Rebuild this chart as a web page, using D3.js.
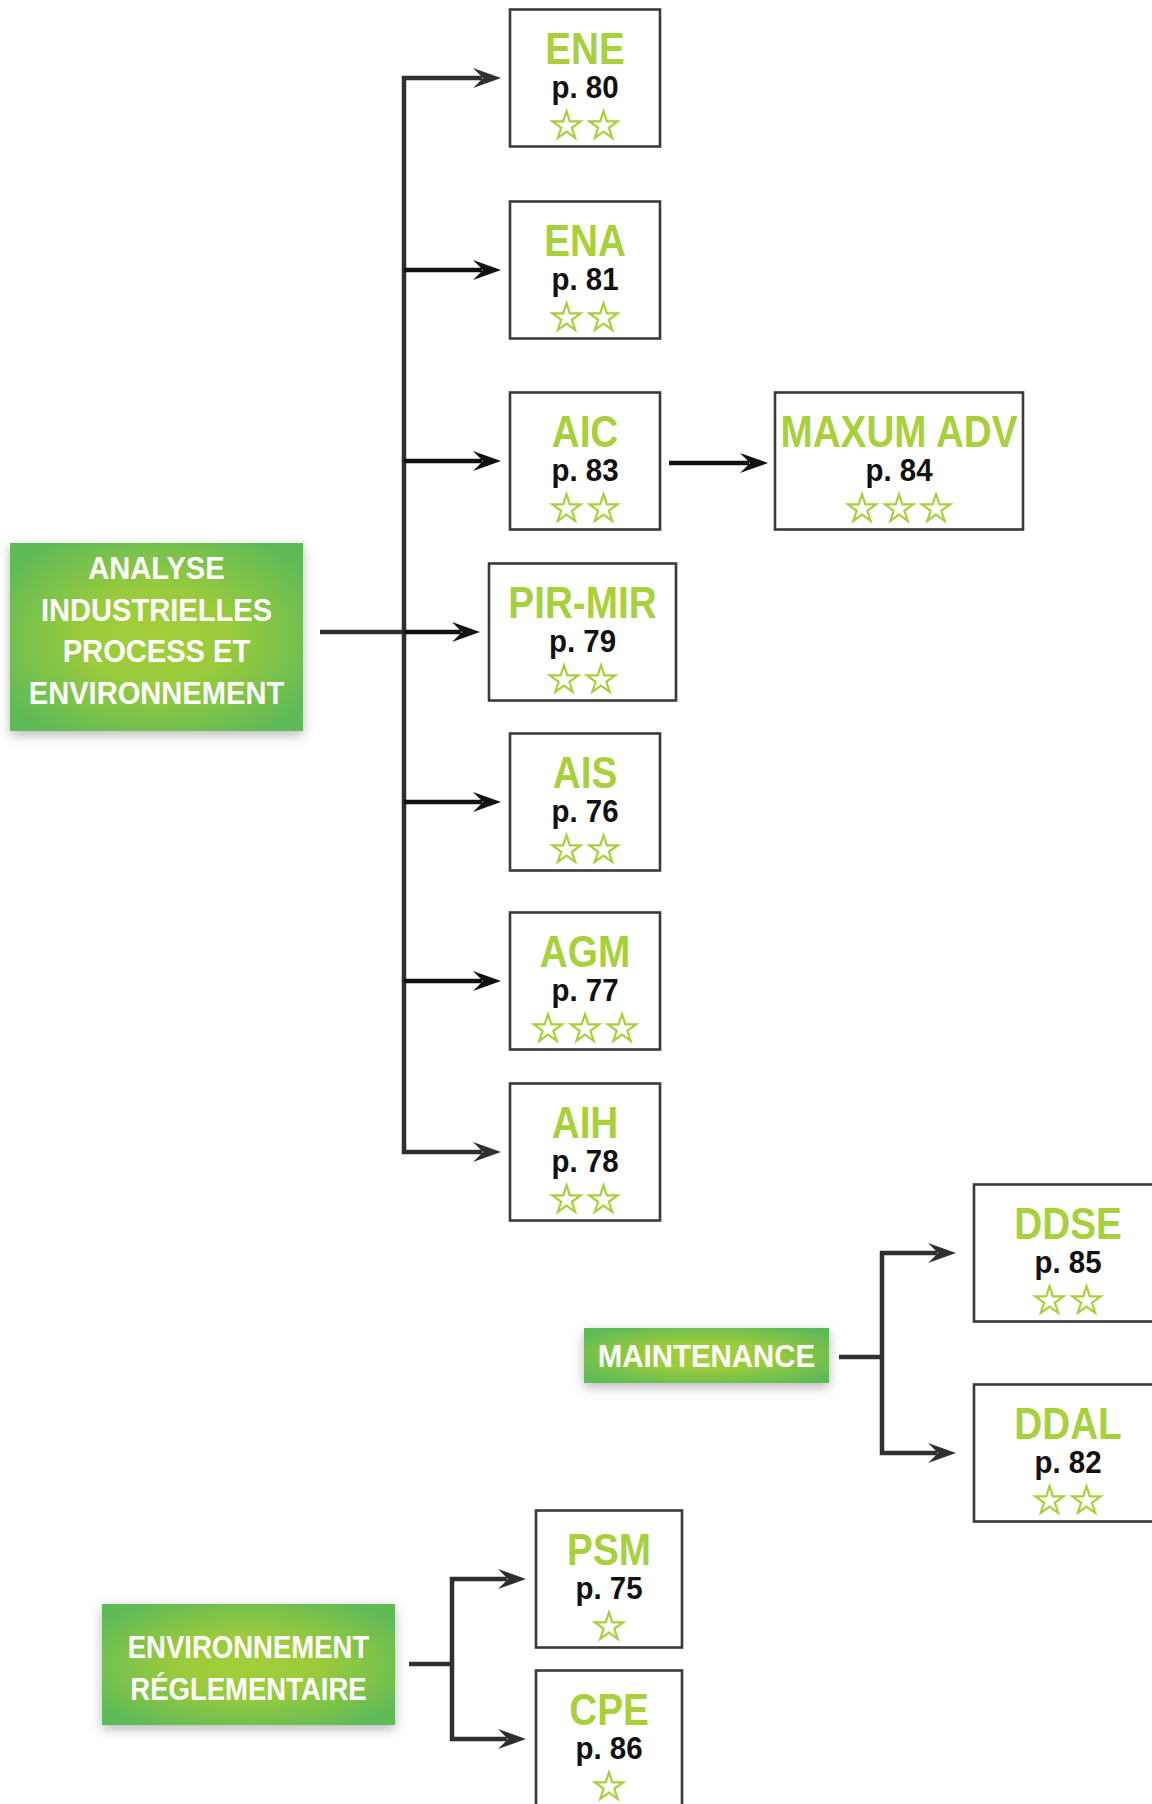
<!DOCTYPE html>
<html><head><meta charset="utf-8">
<script src="https://cdn.jsdelivr.net/npm/d3@7"></script>
<style>html,body{margin:0;padding:0;background:#fff}svg{display:block}</style>
</head><body>
<script>
// ---------- DATA ----------
const groupLabels = [
  ["ANALYSE", "INDUSTRIELLES", "PROCESS ET", "ENVIRONNEMENT"],
  ["MAINTENANCE"],
  ["ENVIRONNEMENT", "RÉGLEMENTAIRE"]
];
const analyseCodes = ["ENE", "ENA", "AIC", "PIR-MIR", "AIS", "AGM", "AIH"];
const analysePages = [80, 81, 83, 79, 76, 77, 78];
const analyseStars = [2, 2, 2, 2, 2, 3, 2];

const followCodes = ["MAXUM ADV"];       // follows AIC
const followPages = [84];
const followStars = [3];
const followParent = ["AIC"];

const maintenanceCodes = ["DDSE", "DDAL"];
const maintenancePages = [85, 82];
const maintenanceStars = [2, 2];

const envCodes = ["PSM", "CPE"];
const envPages = [75, 86];
const envStars = [1, 1];

// ---------- LAYOUT / STYLE ----------
const W = 1152, H = 1804;
const GREEN_TXT = "#a8cf3c";
const LINE = "#2f2f2f";
const BOX_STROKE = "#3a3a3a";
const FONT = "'Liberation Sans', Arial, sans-serif";

const groups = [
  { codes: analyseCodes, pages: analysePages, stars: analyseStars,
    box: [10, 543, 293, 188], lineH: 41.5, labelShift: -7, labelSx: 0.91,
    linkX0: 320, trunkX: 404, linkY: 632,
    rowsY: [78, 270, 461, 632, 802, 981, 1152], childX: 510, childW: 150, gap: 9 },
  { codes: maintenanceCodes, pages: maintenancePages, stars: maintenanceStars,
    box: [584, 1328, 245, 55], lineH: 40, labelShift: 0, labelSx: 0.92,
    linkX0: 839, trunkX: 882, linkY: 1357,
    rowsY: [1253, 1453], childX: 974, childW: 188, gap: 18 },
  { codes: envCodes, pages: envPages, stars: envStars,
    box: [102, 1604, 293, 121], lineH: 42, labelShift: 3, labelSx: 0.86,
    linkX0: 409, trunkX: 452, linkY: 1664,
    rowsY: [1579, 1739], childX: 536, childW: 146, gap: 10 }
];
// per-node overrides of box geometry
const boxOverride = { "PIR-MIR": { x: 489, w: 187 } };
const followLayout = { x: 775, w: 248, y: 461, lineY: 463, lineX0: 669, gap: 7 };

const BOX_H = 137;
const TITLE_SIZE = 45, TITLE_SX = 0.86;
const PAGE_SIZE = 32, PAGE_SX = 0.92;
const LABEL_SIZE = 32;
const STAR_R = 14.8;

const svg = d3.select("body").append("svg")
  .attr("width", W).attr("height", H).attr("viewBox", `0 0 ${W} ${H}`);

const defs = svg.append("defs");
const grad = defs.append("radialGradient").attr("id", "gbox")
  .attr("cx", "50%").attr("cy", "50%").attr("r", "62%");
grad.append("stop").attr("offset", "0%").attr("stop-color", "#a3ce39");
grad.append("stop").attr("offset", "40%").attr("stop-color", "#9acb3c");
grad.append("stop").attr("offset", "100%").attr("stop-color", "#5fba58");
const filt = defs.append("filter").attr("id", "shadow")
  .attr("x", "-20%").attr("y", "-30%").attr("width", "140%").attr("height", "160%");
filt.append("feDropShadow").attr("dx", 0).attr("dy", 4).attr("stdDeviation", 6)
  .attr("flood-color", "#000").attr("flood-opacity", 0.28);

const starPath = d3.symbol(d3.symbolStar, (STAR_R * STAR_R) / 0.8908130915292852)();
const HEAD_L = 28, HEAD_W = 10, NOTCH = 19;
function arrowHead(g, tipX, y, color) {
  const p = d3.path();
  p.moveTo(tipX, y);
  p.lineTo(tipX - HEAD_L, y - HEAD_W);
  p.lineTo(tipX - NOTCH + 1, y);
  p.lineTo(tipX - HEAD_L, y + HEAD_W);
  p.closePath();
  g.append("path").attr("d", p.toString()).attr("fill", color);
}

function scaledText(g, txt, x, y, size, sx, color) {
  return g.append("text")
    .attr("transform", `translate(${x},${y}) scale(${sx},1)`)
    .attr("text-anchor", "middle")
    .attr("font-family", FONT).attr("font-weight", 700)
    .attr("font-size", size).attr("fill", color)
    .text(txt);
}

function courseBox(g, code, page, stars, x, w, cy) {
  const top = cy - BOX_H / 2;
  g.append("rect").attr("x", x).attr("y", top).attr("width", w).attr("height", BOX_H)
    .attr("fill", "#fff").attr("stroke", BOX_STROKE).attr("stroke-width", 2.6);
  const cx = x + w / 2;
  scaledText(g, code, cx, cy - 14, TITLE_SIZE, TITLE_SX, GREEN_TXT);
  scaledText(g, "p. " + page, cx, cy + 20, PAGE_SIZE, PAGE_SX, "#111");
  const sx = d3.scalePoint().domain(d3.range(stars)).range([cx - 18.5 * (stars - 1), cx + 18.5 * (stars - 1)]);
  g.selectAll(null).data(d3.range(stars)).enter().append("path")
    .attr("d", starPath)
    .attr("transform", i => `translate(${stars === 1 ? cx : sx(i)},${cy + 48})`)
    .attr("fill", "#fff").attr("stroke", GREEN_TXT).attr("stroke-width", 2.2)
    .attr("stroke-linejoin", "miter");
}

const lines = svg.append("g");
const nodes = svg.append("g");

groups.forEach((gr, gi) => {
  const yScale = d3.scaleOrdinal().domain(gr.codes).range(gr.rowsY);
  const [bx, by, bw, bh] = gr.box;
  // group box
  nodes.append("rect").attr("x", bx).attr("y", by).attr("width", bw).attr("height", bh)
    .attr("fill", "url(#gbox)").attr("filter", "url(#shadow)");
  const lbl = groupLabels[gi];
  const cyBox = by + bh / 2;
  lbl.forEach((t, i) => {
    const base = cyBox + (i - (lbl.length - 1) / 2) * gr.lineH + LABEL_SIZE * 0.716 / 2 + gr.labelShift;
    scaledText(nodes, t, bx + bw / 2, base, LABEL_SIZE, gr.labelSx, "#fff");
  });
  // connector from group box to trunk
  lines.append("line").attr("x1", gr.linkX0).attr("x2", gr.trunkX + 2)
    .attr("y1", gr.linkY).attr("y2", gr.linkY)
    .attr("stroke", LINE).attr("stroke-width", 4.5);
  // trunk with first & last branches
  const first = gr.codes[0], last = gr.codes[gr.codes.length - 1];
  const tipOf = c => (boxOverride[c] ? boxOverride[c].x : gr.childX) - gr.gap;
  const tp = d3.path();
  tp.moveTo(tipOf(first) - NOTCH, yScale(first));
  tp.lineTo(gr.trunkX, yScale(first));
  tp.lineTo(gr.trunkX, yScale(last));
  tp.lineTo(tipOf(last) - NOTCH, yScale(last));
  lines.append("path").attr("d", tp.toString()).attr("fill", "none")
    .attr("stroke", LINE).attr("stroke-width", 4.5).attr("stroke-linejoin", "miter");
  gr.codes.forEach((c, i) => {
    const y = yScale(c);
    const middle = i > 0 && i < gr.codes.length - 1;
    const col = middle ? "#111" : LINE;
    if (middle) {
      lines.append("line").attr("x1", gr.trunkX).attr("x2", tipOf(c) - NOTCH)
        .attr("y1", y).attr("y2", y).attr("stroke", col).attr("stroke-width", 4.5);
    }
    arrowHead(lines, tipOf(c), y, col);
    const ov = boxOverride[c] || {};
    courseBox(nodes, c, gr.pages[i], gr.stars[i], ov.x || gr.childX, ov.w || gr.childW, y);
  });
});

// follow-up course (MAXUM ADV after AIC)
followCodes.forEach((c, i) => {
  const fl = followLayout;
  const tip = fl.x - fl.gap;
  lines.append("line").attr("x1", fl.lineX0).attr("x2", tip - NOTCH)
    .attr("y1", fl.lineY).attr("y2", fl.lineY).attr("stroke", "#111").attr("stroke-width", 4.5);
  arrowHead(lines, tip, fl.lineY, "#111");
  courseBox(nodes, c, followPages[i], followStars[i], fl.x, fl.w, fl.y);
});
</script>
</body></html>
